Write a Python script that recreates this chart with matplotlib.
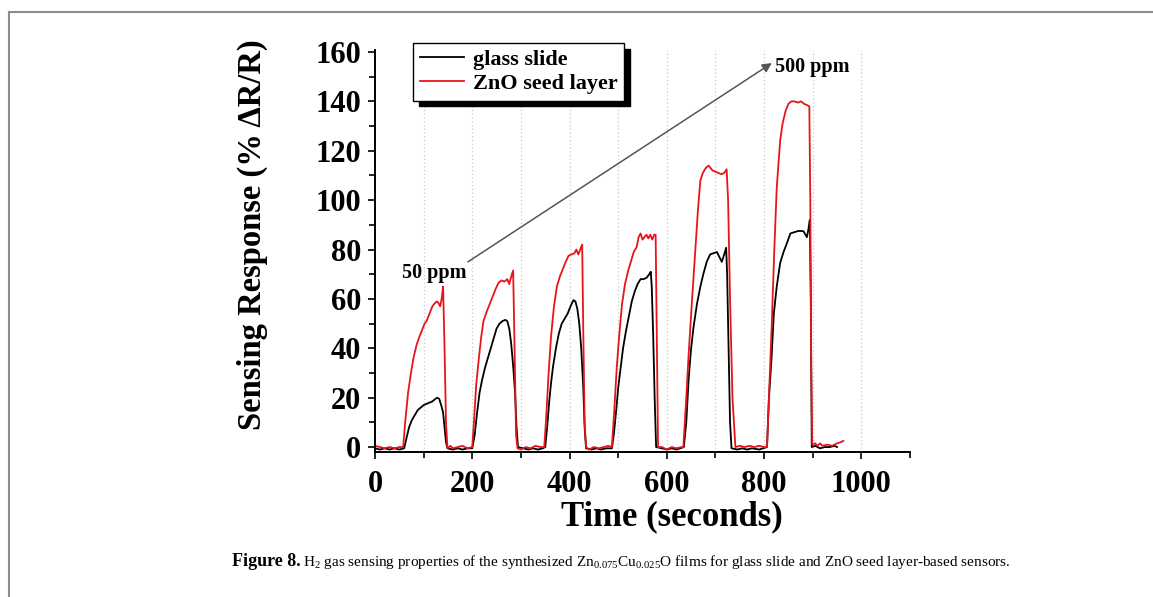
import matplotlib
matplotlib.use("Agg")
import matplotlib.pyplot as plt
from matplotlib.ticker import MultipleLocator
from matplotlib.lines import Line2D

plt.rcParams["font.family"] = ["Liberation Serif", "DejaVu Serif"]
plt.rcParams["mathtext.fontset"] = "custom"
plt.rcParams["mathtext.rm"] = "Liberation Serif"
plt.rcParams["mathtext.it"] = "Liberation Serif:italic"

# sensing response, time in seconds
glass_t = [0, 10, 20, 30, 40, 50, 60, 64, 70, 76, 82, 88, 94, 100, 106, 112, 118, 124, 128, 132,
           136, 140, 143, 146, 149, 160, 170, 180, 190, 200, 205, 210, 215, 220, 226, 232, 238, 244,
           250, 256, 262, 268, 272, 276, 280, 284, 288, 291, 294, 305, 315, 325, 335, 345, 350, 354,
           358, 362, 366, 372, 378, 384, 390, 396, 402, 408, 412, 416, 420, 424, 428, 431, 434, 445,
           455, 465, 475, 487, 491, 496, 500, 505, 510, 516, 522, 528, 534, 540, 546, 552, 558, 564,
           567, 569, 572, 575, 578, 590, 600, 610, 620, 635, 640, 645, 650, 655, 662, 669, 675, 682,
           689, 696, 703, 708, 713, 718, 722, 724, 727, 730, 733, 745, 755, 765, 775, 790, 806, 810,
           815, 820, 826, 833, 840, 847, 854, 862, 870, 877, 881, 885, 888, 891, 894, 896, 898, 905,
           915, 925, 935, 945, 950]
glass_r = [-0.5, -1, -0.5, -1, -0.5, -1, -0.5, 3, 8, 11, 13, 15, 16, 17, 17.5, 18, 18.5, 19.5, 20, 19.5,
           17, 14, 8, 2, -0.5, -1, -0.5, -1, -0.5, -0.5, 5, 14, 22, 27, 32, 36, 40, 44,
           48, 50, 51, 51.5, 51, 48, 42, 33, 22, 8, 0, -0.5, -1, -0.5, -1, -0.5, 0, 8,
           18, 26, 32.5, 40, 46, 50, 52, 54, 57, 59.5, 59, 56, 50, 40, 25, 8, -0.5, -1,
           -0.5, -1, -0.5, -0.5, 5, 15, 24, 32, 40, 47, 53, 59, 63, 66, 68, 68, 68.5, 70,
           71, 65, 45, 20, 0, -0.5, -1, -0.5, -1, 0, 10, 28, 40, 48.7, 58, 65, 70, 75,
           78, 78.5, 79, 77, 75, 78, 80.7, 70, 40, 10, -0.5, -1, -0.5, -1, -0.5, -1, 0, 20,
           35, 54, 65, 74.5, 79, 82.6, 86.5, 87, 87.5, 87.5, 87.4, 86, 85, 88, 92, 60, 0, 0.5,
           -0.5, 0, 0, 0.5, 0]

zno_t = [0, 10, 20, 30, 40, 50, 58, 62, 68, 74, 79, 85, 90, 96, 102, 106, 112, 118, 122, 127,
         130, 134, 137, 140, 143, 146, 149, 155, 160, 170, 180, 190, 200, 204, 208, 213, 218, 223,
         230, 236, 242, 248, 254, 260, 266, 272, 276, 280, 284, 287, 290, 293, 300, 310, 320, 330,
         340, 348, 352, 357, 362, 368, 374, 380, 386, 392, 398, 404, 410, 414, 418, 422, 426, 428,
         431, 434, 440, 450, 460, 470, 480, 487, 492, 497, 502, 508, 514, 520, 526, 532, 538, 542,
         546, 550, 554, 558, 562, 566, 570, 574, 577, 579, 582, 590, 600, 610, 620, 630, 634, 640,
         645, 652, 658, 664, 669, 674, 680, 686, 690, 694, 700, 706, 712, 718, 723, 726, 730, 735,
         741, 750, 760, 770, 780, 790, 800, 806, 810, 816, 821, 826, 833, 838, 844, 850, 856, 862,
         870, 876, 882, 888, 893, 895, 897, 899, 905, 910, 915, 920, 930, 940, 950, 958, 963]
zno_r = [0.5, 0, -0.5, 0, -0.5, 0, 0, 10, 22, 30, 36, 41, 44, 47, 50, 51, 54, 57, 58, 59,
         58.5, 57, 60, 65, 40, 10, -0.5, 0.5, -0.5, 0, 0.5, -0.5, 0, 12, 25, 35, 44, 51,
         55, 58, 61, 64, 66.5, 67.5, 67, 68, 66, 69, 71.5, 40, 5, -0.5, -1, 0, -0.5, 0.5,
         0, 0, 12, 30, 45, 57, 65, 69, 72, 75, 77.5, 78, 78.5, 80, 78, 80, 82, 50,
         10, 0, -1, 0, -0.5, 0, 0.5, 0, 15, 32, 45, 58, 66, 71, 75, 79, 81, 85,
         86.5, 84, 85, 86, 84.5, 86, 84, 86, 86, 50, 0, 0, -1, 0, -0.5, 0, 0, 20,
         38, 60, 78, 96, 108, 111, 113, 114, 113, 112, 111.5, 111, 110.5, 111, 112.5, 100, 60, 20,
         0, 0.5, 0, 0.5, 0, 0.5, 0, 0, 20, 51, 80, 105, 124, 131, 136, 139, 140, 140,
         139.5, 140, 139, 138.5, 138, 100, 30, 1, 1.5, 0.5, 1.5, 0.5, 1, 0.5, 1.5, 2, 2.5]

x_ticks = [0, 200, 400, 600, 800, 1000]
y_ticks = [0, 20, 40, 60, 80, 100, 120, 140, 160]

W, H = 1153, 597
fig = plt.figure(figsize=(W / 100, H / 100), dpi=100)

# page frame (left and top rules)
fig.add_artist(Line2D([9 / W, 9 / W], [0, 1 - 12 / H], color="#8c8c8c", lw=1.5))
fig.add_artist(Line2D([9 / W, 1], [1 - 12 / H, 1 - 12 / H], color="#8c8c8c", lw=1.5))

ax = fig.add_axes([375 / W, 1 - 452 / H, 535 / W, 402.5 / H])
ax.plot(glass_t, glass_r, color="black", lw=1.3, label="glass slide")
ax.plot(zno_t, zno_r, color="#e8141b", lw=1.3, label="ZnO seed layer")

ax.set_xlim(0, 1100)
ax.set_ylim(-2, 161)
ax.set_xticks(x_ticks)
ax.set_yticks(y_ticks)
ax.xaxis.set_minor_locator(MultipleLocator(100))
ax.yaxis.set_minor_locator(MultipleLocator(10))
ax.tick_params(which="both", direction="out", length=5, width=1.2, labelsize=22)
ax.tick_params(which="minor", length=4)
ax.tick_params(axis="x", pad=8)
ax.tick_params(axis="y", pad=5)
for lab in ax.get_xticklabels() + ax.get_yticklabels():
    lab.set_fontweight("bold")

ax.spines["top"].set_visible(False)
ax.spines["right"].set_visible(False)
ax.spines["left"].set_linewidth(1.4)
ax.spines["bottom"].set_linewidth(1.4)

for gx in range(100, 1100, 100):
    ax.axvline(gx, color="#c8c8c8", lw=0.9, ls=(0, (1, 2)), zorder=0)

ax.set_xlabel("Time (seconds)", fontsize=25, fontweight="bold")
ax.xaxis.set_label_coords(0.555, -0.121)
ax.set_ylabel("Sensing Response (% \u0394R/R)", fontsize=23.5, fontweight="bold")
ax.yaxis.set_label_coords(-0.2, 0.54)

ax.annotate("", xy=(816, 155.5), xytext=(191, 75),
            arrowprops=dict(arrowstyle="-|>", color="#555555", lw=1.1,
                            mutation_scale=14, shrinkA=0, shrinkB=0))
ax.text(55, 70.5, "50 ppm", fontsize=14.5, fontweight="bold", va="center", ha="left")
ax.text(823, 154, "500 ppm", fontsize=14.5, fontweight="bold", va="center", ha="left")

leg = ax.legend(loc="upper left", bbox_to_anchor=(38 / 535, 409 / 402.5),
                prop={"weight": "bold", "size": 16}, frameon=True, fancybox=False,
                edgecolor="black", borderpad=0.3, handlelength=2.0, handletextpad=0.4,
                labelspacing=0.15, borderaxespad=0,
                shadow={"ox": 4, "oy": -4, "facecolor": "black", "edgecolor": "black", "alpha": 1})
leg.get_frame().set_linewidth(1.0)

fig.text(232 / W, 1 - 566 / H, "Figure 8.", fontsize=13, fontweight="bold", va="baseline", ha="left")
fig.text(303 / W, 1 - 566 / H,
         "H$_2$ gas sensing properties of the synthesized Zn$_{0.075}$Cu$_{0.025}$O films "
         "for glass slide and ZnO seed layer-based sensors.",
         fontsize=11.0, va="baseline", ha="left")

fig.savefig("out.png", dpi=100)
